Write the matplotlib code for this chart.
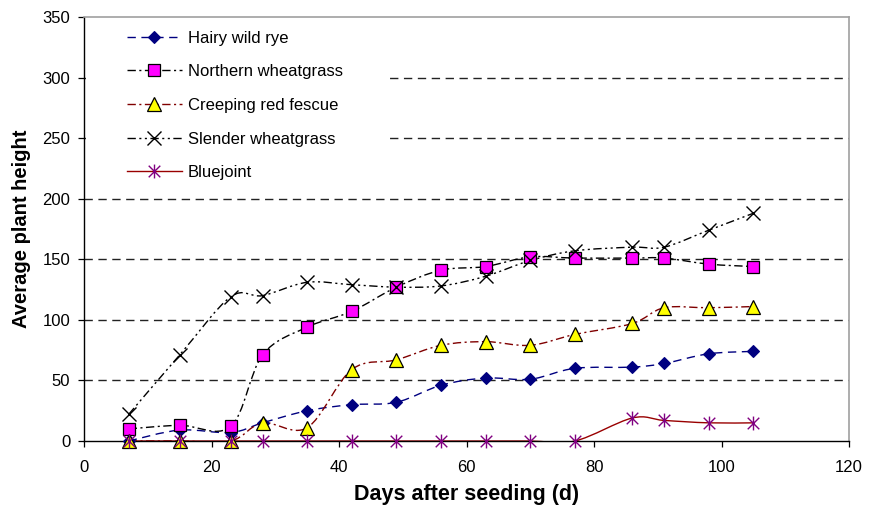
import numpy as np
import matplotlib
matplotlib.use("Agg")
import matplotlib.pyplot as plt
from matplotlib.path import Path
from matplotlib.patches import PathPatch, Rectangle
from matplotlib.lines import Line2D

# Measurement days
days = [7, 15, 23, 28, 35, 42, 49, 56, 63, 70, 77, 86, 91, 98, 105]

# Average plant height per species
hairy_wild_rye = [0, 9, 7, 15, 25, 30, 32, 46, 52, 51, 60, 61, 64, 72, 74]
northern_wheatgrass = [10, 13, 12, 71, 94, 107, 127, 141, 144, 152, 151, 151, 151, 146, 144]
creeping_red_fescue = [0, 0, 0, 15, 11, 59, 67, 79, 82, 79, 88, 97, 110, 110, 111]
slender_wheatgrass = [22, 71, 119, 120, 131, 129, 127, 128, 136, 149, 157, 160, 160, 174, 188]
bluejoint = [0, 0, 0, 0, 0, 0, 0, 0, 0, 0, 0, 19, 17, 15, 15]

# vertical bar + X, like the spreadsheet asterisk marker
asterisk = Path(
    [(-1, -1), (1, 1), (-1, 1), (1, -1), (0, -1.2), (0, 1.2)],
    [Path.MOVETO, Path.LINETO, Path.MOVETO, Path.LINETO, Path.MOVETO, Path.LINETO],
)

series = [
    ("Hairy wild rye", hairy_wild_rye,
     dict(color="#000080", ls=(0, (6, 4)), marker="D", ms=6.6, mfc="#000080", mec="#000080", mew=0.8)),
    ("Northern wheatgrass", northern_wheatgrass,
     dict(color="black", ls=(0, (6, 2.5, 1.5, 2.5)), marker="s", ms=9.2, mfc="#ff00ff", mec="black", mew=0.9)),
    ("Creeping red fescue", creeping_red_fescue,
     dict(color="#800000", ls=(0, (6, 2.5, 1.5, 2.5)), marker="^", ms=9.6, mfc="#ffff00", mec="black", mew=0.9)),
    ("Slender wheatgrass", slender_wheatgrass,
     dict(color="black", ls=(0, (6, 2.5, 1.5, 2.5, 1.5, 2.5)), marker="x", ms=9.6, mfc="none", mec="black", mew=1.0)),
    ("Bluejoint", bluejoint,
     dict(color="#990000", ls="-", marker=asterisk, ms=10, mfc="none", mec="#800080", mew=1.0)),
]


def smooth_path(x, y):
    """Catmull-Rom curve through the points, as cubic Bezier segments."""
    pts = np.column_stack([x, y]).astype(float)
    verts = [pts[0]]
    codes = [Path.MOVETO]
    n = len(pts)
    for i in range(n - 1):
        p0 = pts[i - 1] if i > 0 else pts[i]
        p1 = pts[i]
        p2 = pts[i + 1]
        p3 = pts[i + 2] if i + 2 < n else pts[i + 1]
        verts += [p1 + (p2 - p0) / 6.0, p2 - (p3 - p1) / 6.0, p2]
        codes += [Path.CURVE4] * 3
    return Path(verts, codes)


plt.rcParams["font.family"] = ["Liberation Sans", "DejaVu Sans"]

fig = plt.figure(figsize=(8.69, 5.14), dpi=100)
ax = fig.add_axes([0.0967, 0.142, 0.8803, 0.825])

ax.set_xlim(0, 120)
ax.set_ylim(0, 350)
ax.set_xticks(range(0, 121, 20))
ax.set_yticks(range(0, 351, 50))

# dashed horizontal gridlines
for yv in range(50, 350, 50):
    ax.axhline(yv, color="#222222", lw=1.0, ls=(0, (6, 4)), zorder=1)

# white legend area hides the gridlines behind it
ax.add_patch(Rectangle((0.003, 0.585), 0.397, 0.41, transform=ax.transAxes,
                       facecolor="white", edgecolor="none", zorder=1.5))

handles = []
for label, values, st in series:
    ax.add_patch(PathPatch(smooth_path(days, values), facecolor="none",
                           edgecolor=st["color"], lw=1.0, linestyle=st["ls"],
                           zorder=2, capstyle="butt"))
    ax.plot(days, values, linestyle="none", marker=st["marker"], ms=st["ms"],
            mfc=st["mfc"], mec=st["mec"], mew=st["mew"], zorder=3, clip_on=False)
    handles.append(Line2D([], [], color=st["color"], lw=1.0, linestyle=st["ls"],
                          marker=st["marker"], ms=st["ms"], mfc=st["mfc"],
                          mec=st["mec"], mew=st["mew"]))

ax.legend(handles, [s[0] for s in series], loc="upper left",
          bbox_to_anchor=(0.056, 0.968), borderaxespad=0, borderpad=0,
          frameon=False, fontsize=12, handlelength=3.3, handletextpad=0.36,
          labelspacing=1.12)

for side in ("top", "right"):
    ax.spines[side].set_color("#a0a0a0")
    ax.spines[side].set_linewidth(1.2)
for side in ("left", "bottom"):
    ax.spines[side].set_color("black")
    ax.spines[side].set_linewidth(1.0)

ax.tick_params(direction="out", length=4, width=0.9, labelsize=12)
ax.tick_params(axis="x", pad=10)
ax.tick_params(axis="y", pad=6)
ax.set_xlabel("Days after seeding (d)", fontsize=15.5, fontweight="bold", labelpad=6)
ax.set_ylabel("Average plant height", fontsize=14.5, fontweight="bold", labelpad=8)

fig.savefig("out.png", dpi=100)
